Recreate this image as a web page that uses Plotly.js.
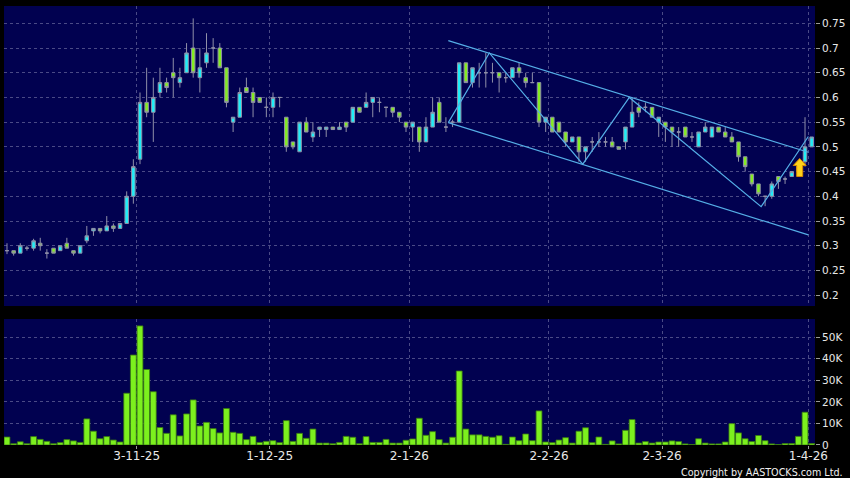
<!DOCTYPE html>
<html>
<head>
<meta charset="utf-8">
<script src="https://cdn.plot.ly/plotly-3.0.1.min.js"></script>
<style>
html,body{margin:0;padding:0;background:#000;}
#chart{width:850px;height:478px;}
</style>
</head>
<body>
<div id="chart"></div>
<script>
// ---- Data (daily candles, index 0 .. 121; tick dates mark the first trading day of each month) ----
const openP  = [0.29,0.29,0.285,0.295,0.295,0.305,0.285,0.295,0.29,0.305,
                0.29,0.285,0.31,0.33,0.335,0.33,0.34,0.335,0.345,0.40,
                0.475,0.59,0.57,0.61,0.63,0.65,0.63,0.65,0.70,0.64,
                0.67,0.70,0.70,0.66,0.55,0.56,0.62,0.61,0.60,0.58,
                0.58,0.60,0.56,0.51,0.49,0.55,0.52,0.535,0.535,0.54,
                0.535,0.55,0.55,0.58,0.58,0.59,0.59,0.58,0.58,0.57,
                0.55,0.54,0.54,0.51,0.54,0.59,0.54,0.55,0.55,0.67,
                0.63,0.65,0.65,0.65,0.65,0.64,0.64,0.66,0.64,0.63,
                0.63,0.55,0.56,0.55,0.53,0.51,0.52,0.49,0.51,0.51,
                0.51,0.51,0.50,0.51,0.54,0.58,0.58,0.58,0.55,0.55,
                0.54,0.53,0.54,0.52,0.50,0.53,0.52,0.54,0.53,0.52,
                0.51,0.48,0.445,0.425,0.40,0.40,0.44,0.435,0.44,0.45,
                0.47,0.50];
const highP  = [0.305,0.29,0.305,0.30,0.314,0.316,0.293,0.295,0.30,0.316,
                0.29,0.30,0.34,0.335,0.335,0.36,0.345,0.345,0.41,0.475,
                0.61,0.66,0.64,0.66,0.64,0.68,0.66,0.71,0.76,0.70,
                0.73,0.72,0.71,0.66,0.56,0.62,0.64,0.62,0.60,0.60,
                0.61,0.60,0.56,0.51,0.55,0.56,0.55,0.54,0.54,0.54,
                0.55,0.55,0.58,0.58,0.61,0.60,0.60,0.58,0.58,0.57,
                0.55,0.55,0.54,0.56,0.60,0.60,0.56,0.555,0.67,0.67,
                0.66,0.67,0.69,0.67,0.65,0.65,0.66,0.67,0.65,0.65,
                0.63,0.56,0.56,0.55,0.53,0.52,0.52,0.50,0.52,0.53,
                0.52,0.52,0.50,0.54,0.60,0.59,0.59,0.58,0.56,0.55,
                0.54,0.54,0.54,0.53,0.53,0.55,0.54,0.54,0.54,0.53,
                0.51,0.48,0.445,0.425,0.40,0.43,0.44,0.44,0.45,0.46,
                0.56,0.52];
const lowP   = [0.283,0.28,0.285,0.29,0.29,0.29,0.274,0.285,0.29,0.295,
                0.28,0.285,0.305,0.32,0.325,0.33,0.328,0.335,0.345,0.385,
                0.465,0.56,0.51,0.60,0.61,0.60,0.62,0.65,0.64,0.61,
                0.66,0.67,0.66,0.58,0.53,0.56,0.61,0.56,0.59,0.56,
                0.56,0.58,0.49,0.495,0.49,0.53,0.51,0.52,0.52,0.535,
                0.535,0.53,0.55,0.57,0.58,0.56,0.57,0.56,0.56,0.55,
                0.53,0.51,0.49,0.51,0.54,0.55,0.53,0.54,0.55,0.63,
                0.62,0.62,0.62,0.63,0.61,0.63,0.64,0.64,0.62,0.63,
                0.54,0.53,0.53,0.53,0.50,0.51,0.47,0.47,0.49,0.50,
                0.50,0.50,0.495,0.495,0.54,0.56,0.57,0.56,0.52,0.51,
                0.50,0.50,0.52,0.51,0.50,0.53,0.52,0.53,0.52,0.51,
                0.47,0.45,0.42,0.40,0.38,0.395,0.415,0.425,0.44,0.45,
                0.46,0.50];
const closeP = [0.29,0.285,0.30,0.295,0.31,0.30,0.285,0.285,0.30,0.295,
                0.285,0.30,0.32,0.335,0.33,0.34,0.335,0.345,0.40,0.46,
                0.59,0.57,0.60,0.63,0.62,0.64,0.64,0.69,0.65,0.66,
                0.69,0.70,0.66,0.59,0.56,0.61,0.61,0.59,0.59,0.58,
                0.60,0.60,0.50,0.50,0.55,0.53,0.53,0.54,0.54,0.535,
                0.54,0.54,0.58,0.57,0.59,0.60,0.59,0.58,0.57,0.56,
                0.54,0.55,0.51,0.54,0.57,0.55,0.54,0.55,0.67,0.63,
                0.66,0.65,0.65,0.65,0.64,0.64,0.66,0.65,0.63,0.63,
                0.55,0.56,0.53,0.53,0.51,0.52,0.49,0.50,0.51,0.51,
                0.51,0.50,0.495,0.54,0.57,0.57,0.58,0.56,0.56,0.54,
                0.53,0.53,0.52,0.52,0.53,0.54,0.54,0.53,0.52,0.51,
                0.48,0.46,0.425,0.405,0.40,0.425,0.43,0.435,0.45,0.46,
                0.50,0.52];
const volume = [3700,600,1500,600,3900,2600,1700,600,1100,2500,
                1900,1200,12100,6400,2900,3900,2300,1400,24000,41700,
                55200,35000,24700,8100,5400,14000,4200,14400,20900,8800,
                10500,7600,5600,16900,5900,5400,2500,4000,1200,1700,
                2000,1100,11300,1700,5400,3100,7400,900,900,600,
                1200,4000,3600,600,3900,1200,1200,2600,900,900,
                2200,2800,12400,4500,6200,2500,900,3600,34300,7400,
                4700,4700,4000,3600,4300,300,3700,2000,5100,2000,
                15800,1400,1100,2300,3400,900,6400,8000,1100,3700,
                300,1900,500,6800,11800,900,1600,900,1400,1400,
                1900,1600,500,200,2900,900,500,500,1400,9900,
                5600,2900,1600,4400,2000,500,200,700,700,4000,
                15200,700];

// x tick labels (first trading day of each month) and their bar positions
const tickPos    = [19.5, 39.5, 60.5, 81.5, 98.5, 120.5];
const tickLabels = ['3-11-25','1-12-25','2-1-26','2-2-26','2-3-26','1-4-26'];

// price & volume axis ticks
const priceTicks = [0.2,0.25,0.3,0.35,0.4,0.45,0.5,0.55,0.6,0.65,0.7,0.75];
const volTicks   = [0,10000,20000,30000,40000,50000];
const volLabels  = ['0','10K','20K','30K','40K','50K'];

// drawn trend channel and zigzag (bar index, price)
const upperX = [66.36, 120.5];
const upperY = [0.715, 0.489];
const lowerX = [66.36, 120.5];
const lowerY = [0.549, 0.322];
const zigX   = [66.36, 72.53, 86.57, 93.58, 113.4, 120.5];
const zigY   = [0.549, 0.690, 0.465, 0.600, 0.379, 0.521];

// buy-signal arrow anchor (bar index, price)
const signalX = [119.2];
const signalY = [0.44];

const idx = openP.map((_, i) => i);

const gridCol = '#4a4a86';
const lineCol = '#55aee6';

const traces = [
  {
    type: 'candlestick', x: idx, open: openP, high: highP, low: lowP, close: closeP,
    xaxis: 'x2', yaxis: 'y2', whiskerwidth: 0,
    increasing: {line: {color: '#9090a8', width: 1}, fillcolor: '#1eeef8'},
    decreasing: {line: {color: '#9090a8', width: 1}, fillcolor: '#84ec22'},
    hoverinfo: 'skip', showlegend: false
  },
  {type: 'scatter', mode: 'lines', x: upperX, y: upperY, xaxis: 'x2', yaxis: 'y2',
   line: {color: lineCol, width: 1.2}, hoverinfo: 'skip', showlegend: false},
  {type: 'scatter', mode: 'lines', x: lowerX, y: lowerY, xaxis: 'x2', yaxis: 'y2',
   line: {color: lineCol, width: 1.2}, hoverinfo: 'skip', showlegend: false},
  {type: 'scatter', mode: 'lines', x: zigX, y: zigY, xaxis: 'x2', yaxis: 'y2',
   line: {color: lineCol, width: 1.2}, hoverinfo: 'skip', showlegend: false},
  {
    type: 'bar', x: idx, y: volume, xaxis: 'x', yaxis: 'y',
    marker: {color: '#7cf01e', line: {color: '#3a7a12', width: 0.8}},
    hoverinfo: 'skip', showlegend: false
  }
];

const axisFont = {family: 'DejaVu Sans', size: 10.5, color: '#e8e8e8'};

const layout = {
  width: 850, height: 478,
  margin: {l: 4, r: 35, t: 6, b: 33},
  paper_bgcolor: '#000000',
  plot_bgcolor: '#010150',
  bargap: 0.12,
  boxgap: 0.25,
  showlegend: false,
  xaxis: {
    domain: [0, 1], range: [-0.45, 121.5], anchor: 'y',
    tickmode: 'array', tickvals: tickPos, ticktext: tickLabels,
    ticks: 'outside', ticklen: 3, tickcolor: '#9a9a9a', ticklabelstandoff: -3,
    tickfont: {family: 'DejaVu Sans', size: 12, color: '#e8e8e8'},
    showgrid: true, gridcolor: gridCol, griddash: '3px,3px', gridwidth: 1,
    zeroline: false, showline: false, fixedrange: true
  },
  yaxis: {
    domain: [0, 0.287], range: [0, 58400], side: 'right', anchor: 'x',
    tickmode: 'array', tickvals: volTicks, ticktext: volLabels,
    ticks: 'outside', ticklen: 4, tickcolor: '#9a9a9a', tickfont: axisFont,
    showgrid: true, gridcolor: gridCol, griddash: '3px,3px', gridwidth: 1,
    zeroline: false, showline: false, fixedrange: true
  },
  xaxis2: {
    domain: [0, 1], range: [-0.45, 121.5], anchor: 'y2',
    tickmode: 'array', tickvals: tickPos, showticklabels: false, ticks: '',
    showgrid: true, gridcolor: gridCol, griddash: '3px,3px', gridwidth: 1,
    zeroline: false, showline: false, rangeslider: {visible: false}, fixedrange: true
  },
  yaxis2: {
    domain: [0.3166, 1], range: [0.178, 0.785], side: 'right', anchor: 'x2',
    tickmode: 'array', tickvals: priceTicks,
    ticks: 'outside', ticklen: 4, tickcolor: '#9a9a9a', tickfont: axisFont,
    showgrid: true, gridcolor: gridCol, griddash: '3px,3px', gridwidth: 1,
    zeroline: false, showline: false, fixedrange: true
  },
  shapes: [
    {
      type: 'path', xref: 'x2', yref: 'y2',
      xsizemode: 'pixel', ysizemode: 'pixel',
      xanchor: signalX[0], yanchor: signalY[0],
      path: 'M -3 0 L 3 0 L 3 11 L 6.5 11 L 0 18 L -6.5 11 L -3 11 Z',
      fillcolor: '#ffd21a', line: {color: '#d88a00', width: 1}
    }
  ],
  annotations: [
    {
      text: 'Copyright by AASTOCKS.com Ltd.', xref: 'paper', yref: 'paper',
      x: 1.0365, y: -0.0635, xanchor: 'right', yanchor: 'middle', showarrow: false,
      font: {family: 'DejaVu Sans', size: 9.6, color: '#f0f0f0'}
    }
  ]
};

Plotly.newPlot('chart', traces, layout, {staticPlot: true, displayModeBar: false});
</script>
</body>
</html>
